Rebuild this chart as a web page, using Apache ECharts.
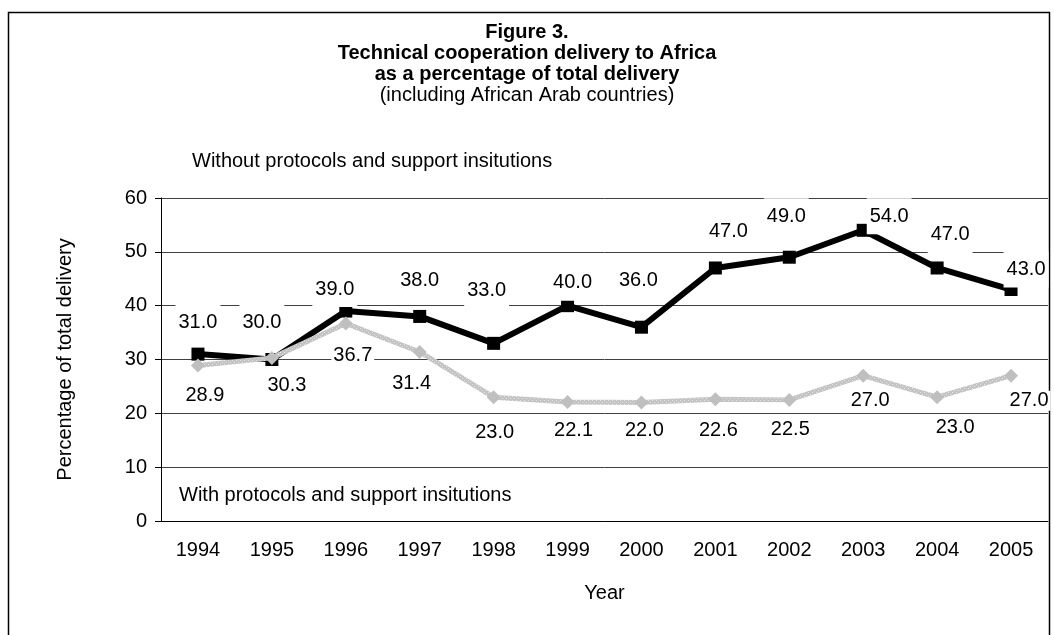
<!DOCTYPE html>
<html>
<head>
<meta charset="utf-8">
<script src="https://cdn.jsdelivr.net/npm/echarts@6/dist/echarts.min.js"></script>
<style>
  html, body { margin: 0; padding: 0; background: #fff; }
  #main { width: 1054px; height: 635px; }
</style>
</head>
<body>
<div id="main"></div>
<script>
// data
var years = ['1994', '1995', '1996', '1997', '1998', '1999', '2000', '2001', '2002', '2003', '2004', '2005'];
var withoutProtocols = [31.0, 30.0, 39.0, 38.0, 33.0, 40.0, 36.0, 47.0, 49.0, 54.0, 47.0, 43.0];
var withProtocols = [28.9, 30.3, 36.7, 31.4, 23.0, 22.1, 22.0, 22.6, 22.5, 27.0, 23.0, 27.0];

// label nudges (Excel placed them by hand), relative to the point
var blackLabelShift = [[0, -32], [-10, -37], [-11, -22], [0, -36], [-7, -53], [5, -23],
  [-3, -47], [13, -36], [-3, -41], [26, -14], [13, -33], [15, -20]];
var greyLabelShift = [[7, 30], [15, 28], [7, 32], [-8, 32], [1, 35], [6, 28],
  [3, 28], [3, 31], [1, 30], [7, 25], [18, 30], [18, 25]];

var FONT = '"Liberation Sans", Arial, Helvetica, sans-serif';

function withShift(values, shifts) {
  var out = [];
  for (var i = 0; i < values.length; i++) {
    out.push({ value: values[i], label: { offset: shifts[i] } });
  }
  return out;
}

// dotted grey texture like the excel line
var tex = document.createElement('canvas');
tex.width = 4; tex.height = 4;
var tc = tex.getContext('2d');
tc.fillStyle = '#c4c4c4';
tc.fillRect(0, 0, 4, 4);
tc.fillStyle = '#e4e4e4';
tc.fillRect(0, 0, 1, 1);
tc.fillRect(2, 2, 1, 1);

var chart = echarts.init(document.getElementById('main'));

var option = {
  backgroundColor: '#fff',
  animation: false,
  textStyle: { fontFamily: FONT },
  title: {
    text: 'Figure 3.\nTechnical cooperation delivery to Africa\nas a percentage of total delivery',
    subtext: '(including African Arab countries)',
    left: 'center',
    top: 22,
    padding: 0,
    itemGap: 0,
    textStyle: { fontFamily: FONT, fontSize: 20, fontWeight: 'bold', color: '#000', lineHeight: 21 },
    subtextStyle: { fontFamily: FONT, fontSize: 20, color: '#000', lineHeight: 21 }
  },
  graphic: [
    {
      type: 'rect',
      shape: { x: 8.5, y: 12.5, width: 1041, height: 660 },
      style: { fill: null, stroke: '#000', lineWidth: 1.5 },
      silent: true
    },
    {
      type: 'text', left: 192, top: 151,
      style: { text: 'Without protocols and support insitutions', font: '20px ' + FONT, fill: '#000' }
    },
    {
      type: 'text', left: 179, top: 485,
      style: { text: 'With protocols and support insitutions', font: '20px ' + FONT, fill: '#000' },
      z: 10
    }
  ],
  grid: { left: 161, right: 6, top: 198, bottom: 114, containLabel: false },
  xAxis: {
    type: 'category',
    data: years,
    boundaryGap: true,
    name: 'Year',
    nameLocation: 'middle',
    nameGap: 62,
    nameTextStyle: { fontSize: 20, color: '#000', fontFamily: FONT },
    axisLine: { lineStyle: { color: '#000', width: 1 } },
    axisTick: { length: 6, lineStyle: { color: '#000' } },
    axisLabel: { fontSize: 20, color: '#000', margin: 19, fontFamily: FONT },
    splitLine: { show: false }
  },
  yAxis: {
    type: 'value',
    min: 0,
    max: 60,
    interval: 10,
    name: 'Percentage of total delivery',
    nameLocation: 'middle',
    nameGap: 86,
    nameTextStyle: { fontSize: 20, color: '#000', fontFamily: FONT },
    axisLine: { show: true, lineStyle: { color: '#000', width: 1 } },
    axisTick: { show: true, length: 6, lineStyle: { color: '#000' } },
    axisLabel: { fontSize: 20, color: '#000', margin: 14, fontFamily: FONT },
    splitLine: { lineStyle: { color: '#404040', width: 1 } }
  },
  series: [
    {
      name: 'Without protocols and support insitutions',
      type: 'line',
      data: withShift(withoutProtocols, blackLabelShift),
      symbol: 'rect',
      symbolSize: 13,
      lineStyle: { color: '#000', width: 6 },
      itemStyle: { color: '#000' },
      label: {
        show: true,
        position: 'inside',
        formatter: function (p) { return p.value.toFixed(1); },
        fontSize: 20,
        color: '#000',
        fontFamily: FONT,
        backgroundColor: '#fff',
        padding: [8, 3]
      },
      z: 2
    },
    {
      name: 'With protocols and support insitutions',
      type: 'line',
      data: withShift(withProtocols, greyLabelShift),
      symbol: 'diamond',
      symbolSize: 14,
      lineStyle: { color: { image: tex, repeat: 'repeat' }, width: 5 },
      itemStyle: { color: '#bfbfbf' },
      label: {
        show: true,
        position: 'inside',
        formatter: function (p) { return p.value.toFixed(1); },
        fontSize: 20,
        color: '#000',
        fontFamily: FONT,
        backgroundColor: '#fff',
        padding: [0, 2]
      },
      z: 3
    }
  ]
};

chart.setOption(option);
</script>
</body>
</html>
